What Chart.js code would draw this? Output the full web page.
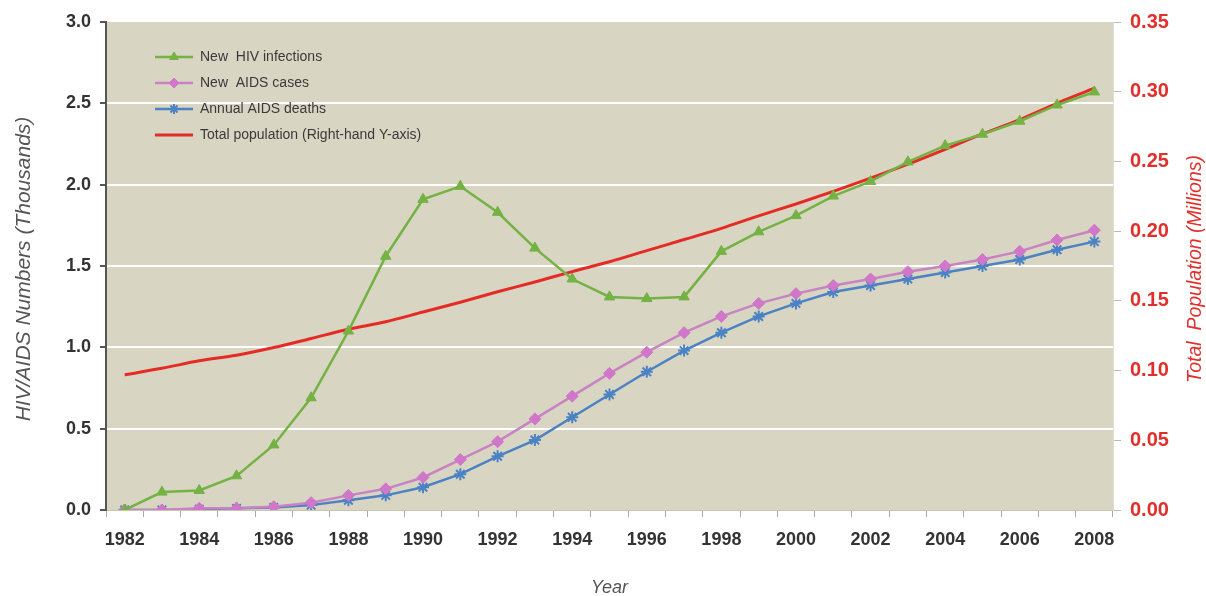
<!DOCTYPE html>
<html>
<head>
<meta charset="utf-8">
<script src="https://cdn.jsdelivr.net/npm/chart.js@4.4.1/dist/chart.umd.min.js"></script>
<style>
  html, body { margin: 0; padding: 0; background: #fff; }
  #wrap { width: 1206px; height: 596px; }
</style>
</head>
<body>
<div id="wrap"><canvas id="hivChart" width="1206" height="596"></canvas></div>
<script>
// years on the x axis
const years = ['1982','1983','1984','1985','1986','1987','1988','1989','1990','1991','1992','1993','1994',
  '1995','1996','1997','1998','1999','2000','2001','2002','2003','2004','2005','2006','2007','2008'];

// left axis, thousands
const newInfections = [0.00, 0.11, 0.12, 0.21, 0.40, 0.69, 1.10, 1.56, 1.91, 1.99, 1.83, 1.61, 1.42,
  1.31, 1.30, 1.31, 1.59, 1.71, 1.81, 1.93, 2.02, 2.14, 2.24, 2.31, 2.39, 2.49, 2.57];
const newAidsCases = [0.00, 0.00, 0.01, 0.01, 0.02, 0.045, 0.09, 0.13, 0.20, 0.31, 0.42, 0.56, 0.70,
  0.84, 0.97, 1.09, 1.19, 1.27, 1.33, 1.38, 1.42, 1.465, 1.50, 1.54, 1.59, 1.66, 1.72];
const aidsDeaths = [0.00, 0.00, 0.005, 0.01, 0.015, 0.03, 0.06, 0.09, 0.14, 0.22, 0.33, 0.43, 0.57,
  0.71, 0.85, 0.98, 1.09, 1.19, 1.27, 1.34, 1.38, 1.42, 1.46, 1.50, 1.54, 1.60, 1.65];

// right axis, millions
const totalPopulation = [0.097, 0.1016, 0.107, 0.111, 0.1165, 0.123, 0.1296, 0.135, 0.142, 0.149, 0.1565,
  0.1635, 0.171, 0.178, 0.186, 0.194, 0.202, 0.211, 0.2195, 0.2285, 0.238, 0.248, 0.2587, 0.2697,
  0.280, 0.2917, 0.3025];

const leftTicks = [0, 3, 0.5];      // min, max, step
const rightTicks = [0, 0.35, 0.05];

const FONT = "'Liberation Sans', Arial, sans-serif";

// fill the plot area with the beige background
const plotBg = {
  id: 'plotBg',
  beforeDraw(chart) {
    const a = chart.chartArea, c = chart.ctx;
    c.save();
    c.fillStyle = '#d9d5c3';
    c.fillRect(a.left, a.top, a.right - a.left, a.bottom - a.top);
    c.restore();
  }
};

// axis titles drawn by hand, both y titles read bottom to top
const axisTitles = {
  id: 'axisTitles',
  afterDraw(chart) {
    const c = chart.ctx, a = chart.chartArea;
    const midY = (a.top + a.bottom) / 2 + 3;
    c.save();
    c.textAlign = 'center';
    c.textBaseline = 'middle';
    c.font = 'italic 21px ' + FONT;
    c.fillStyle = '#555';
    c.translate(24, midY);
    c.rotate(-Math.PI / 2);
    c.fillText('HIV/AIDS Numbers (Thousands)', 0, 0);
    c.restore();

    c.save();
    c.textAlign = 'center';
    c.textBaseline = 'middle';
    c.font = 'italic 19.5px ' + FONT;
    c.fillStyle = '#e0302c';
    c.translate(1196, midY);
    c.rotate(-Math.PI / 2);
    c.fillText('Total  Population (Millions)', 0, 0);
    c.restore();

    c.save();
    c.textAlign = 'center';
    c.textBaseline = 'middle';
    c.font = 'italic 18px ' + FONT;
    c.fillStyle = '#555';
    c.fillText('Year', (a.left + a.right) / 2, 588);
    c.restore();
  }
};

// legend inside the plot, line with marker like the original
const insideLegend = {
  id: 'insideLegend',
  afterDatasetsDraw(chart) {
    const c = chart.ctx;
    c.save();
    chart.data.datasets.forEach((ds, i) => {
      const y = 57 + i * 26;
      c.strokeStyle = ds.borderColor;
      c.lineWidth = ds.borderWidth;
      c.beginPath();
      c.moveTo(155, y);
      c.lineTo(193, y);
      c.stroke();
      if (ds.pointRadius > 0) {
        c.fillStyle = ds.pointBackgroundColor;
        c.strokeStyle = ds.pointBorderColor;
        c.lineWidth = ds.pointBorderWidth || 1;
        Chart.helpers.drawPoint(c, {
          pointStyle: ds.pointStyle, radius: 5, borderWidth: ds.pointBorderWidth || 1
        }, 174, y);
      }
      c.fillStyle = '#3a3a3a';
      c.font = '14px ' + FONT;
      c.textBaseline = 'middle';
      c.textAlign = 'left';
      c.fillText(ds.label, 200, y);
    });
    c.restore();
  }
};

const ctx = document.getElementById('hivChart').getContext('2d');
const hivChart = new Chart(ctx, {
  type: 'line',
  data: {
    labels: years,
    datasets: [{
      label: 'New  HIV infections',
      data: newInfections,
      yAxisID: 'y',
      borderColor: '#74b244',
      borderWidth: 2.5,
      pointStyle: 'triangle',
      pointRadius: 6,
      pointBackgroundColor: '#74b244',
      pointBorderColor: '#74b244',
      pointBorderWidth: 1
    }, {
      label: 'New  AIDS cases',
      data: newAidsCases,
      yAxisID: 'y',
      borderColor: '#c883c2',
      borderWidth: 2.5,
      pointStyle: 'rectRot',
      pointRadius: 6,
      pointBackgroundColor: '#d077c9',
      pointBorderColor: '#d077c9',
      pointBorderWidth: 1
    }, {
      label: 'Annual AIDS deaths',
      data: aidsDeaths,
      yAxisID: 'y',
      borderColor: '#4a82c3',
      borderWidth: 2.5,
      pointStyle: 'star',
      pointRadius: 6,
      pointBackgroundColor: '#4a82c3',
      pointBorderColor: '#4a82c3',
      pointBorderWidth: 2
    }, {
      label: 'Total population (Right-hand Y-axis)',
      data: totalPopulation,
      yAxisID: 'y1',
      borderColor: '#e42b25',
      borderWidth: 3,
      pointRadius: 0,
      cubicInterpolationMode: 'monotone'
    }]
  },
  options: {
    responsive: false,
    animation: false,
    devicePixelRatio: 1,
    layout: { padding: { top: 22, left: 0, right: 0, bottom: 0 } },
    plugins: { legend: { display: false }, tooltip: { enabled: false } },
    scales: {
      x: {
        offset: true,
        grid: { offset: true, drawOnChartArea: false, tickLength: 7, tickColor: '#aaa' },
        border: { color: '#c8c4b2' },
        ticks: {
          autoSkip: false, maxRotation: 0, padding: 12,
          color: '#333', font: { family: FONT, size: 18, weight: 'bold' },
          callback: (v, i) => (i % 2 === 0 ? years[i] : '')
        },
        afterFit(s) { s.height = 86; }
      },
      y: {
        position: 'left',
        min: leftTicks[0], max: leftTicks[1],
        ticks: {
          stepSize: leftTicks[2], padding: 9,
          color: '#333', font: { family: FONT, size: 18, weight: 'bold' },
          callback: v => v.toFixed(1)
        },
        grid: {
          color: ctx => (ctx.tick && (ctx.tick.value === 0 || ctx.tick.value === 3) ? 'rgba(0,0,0,0)' : '#ffffff'),
          lineWidth: 2, tickColor: '#555', tickLength: 6
        },
        border: { color: '#555', width: 2 },
        afterFit(s) { s.width = 106; }
      },
      y1: {
        position: 'right',
        min: rightTicks[0], max: rightTicks[1],
        ticks: {
          stepSize: rightTicks[2], padding: 9,
          color: '#e0302c', font: { family: FONT, size: 20, weight: 'bold' },
          callback: v => v.toFixed(2)
        },
        grid: { drawOnChartArea: false, tickColor: '#bbb', tickLength: 8 },
        border: { color: '#ddd' },
        afterFit(s) { s.width = 93; }
      }
    }
  },
  plugins: [plotBg, insideLegend, axisTitles]
});
</script>
</body>
</html>
